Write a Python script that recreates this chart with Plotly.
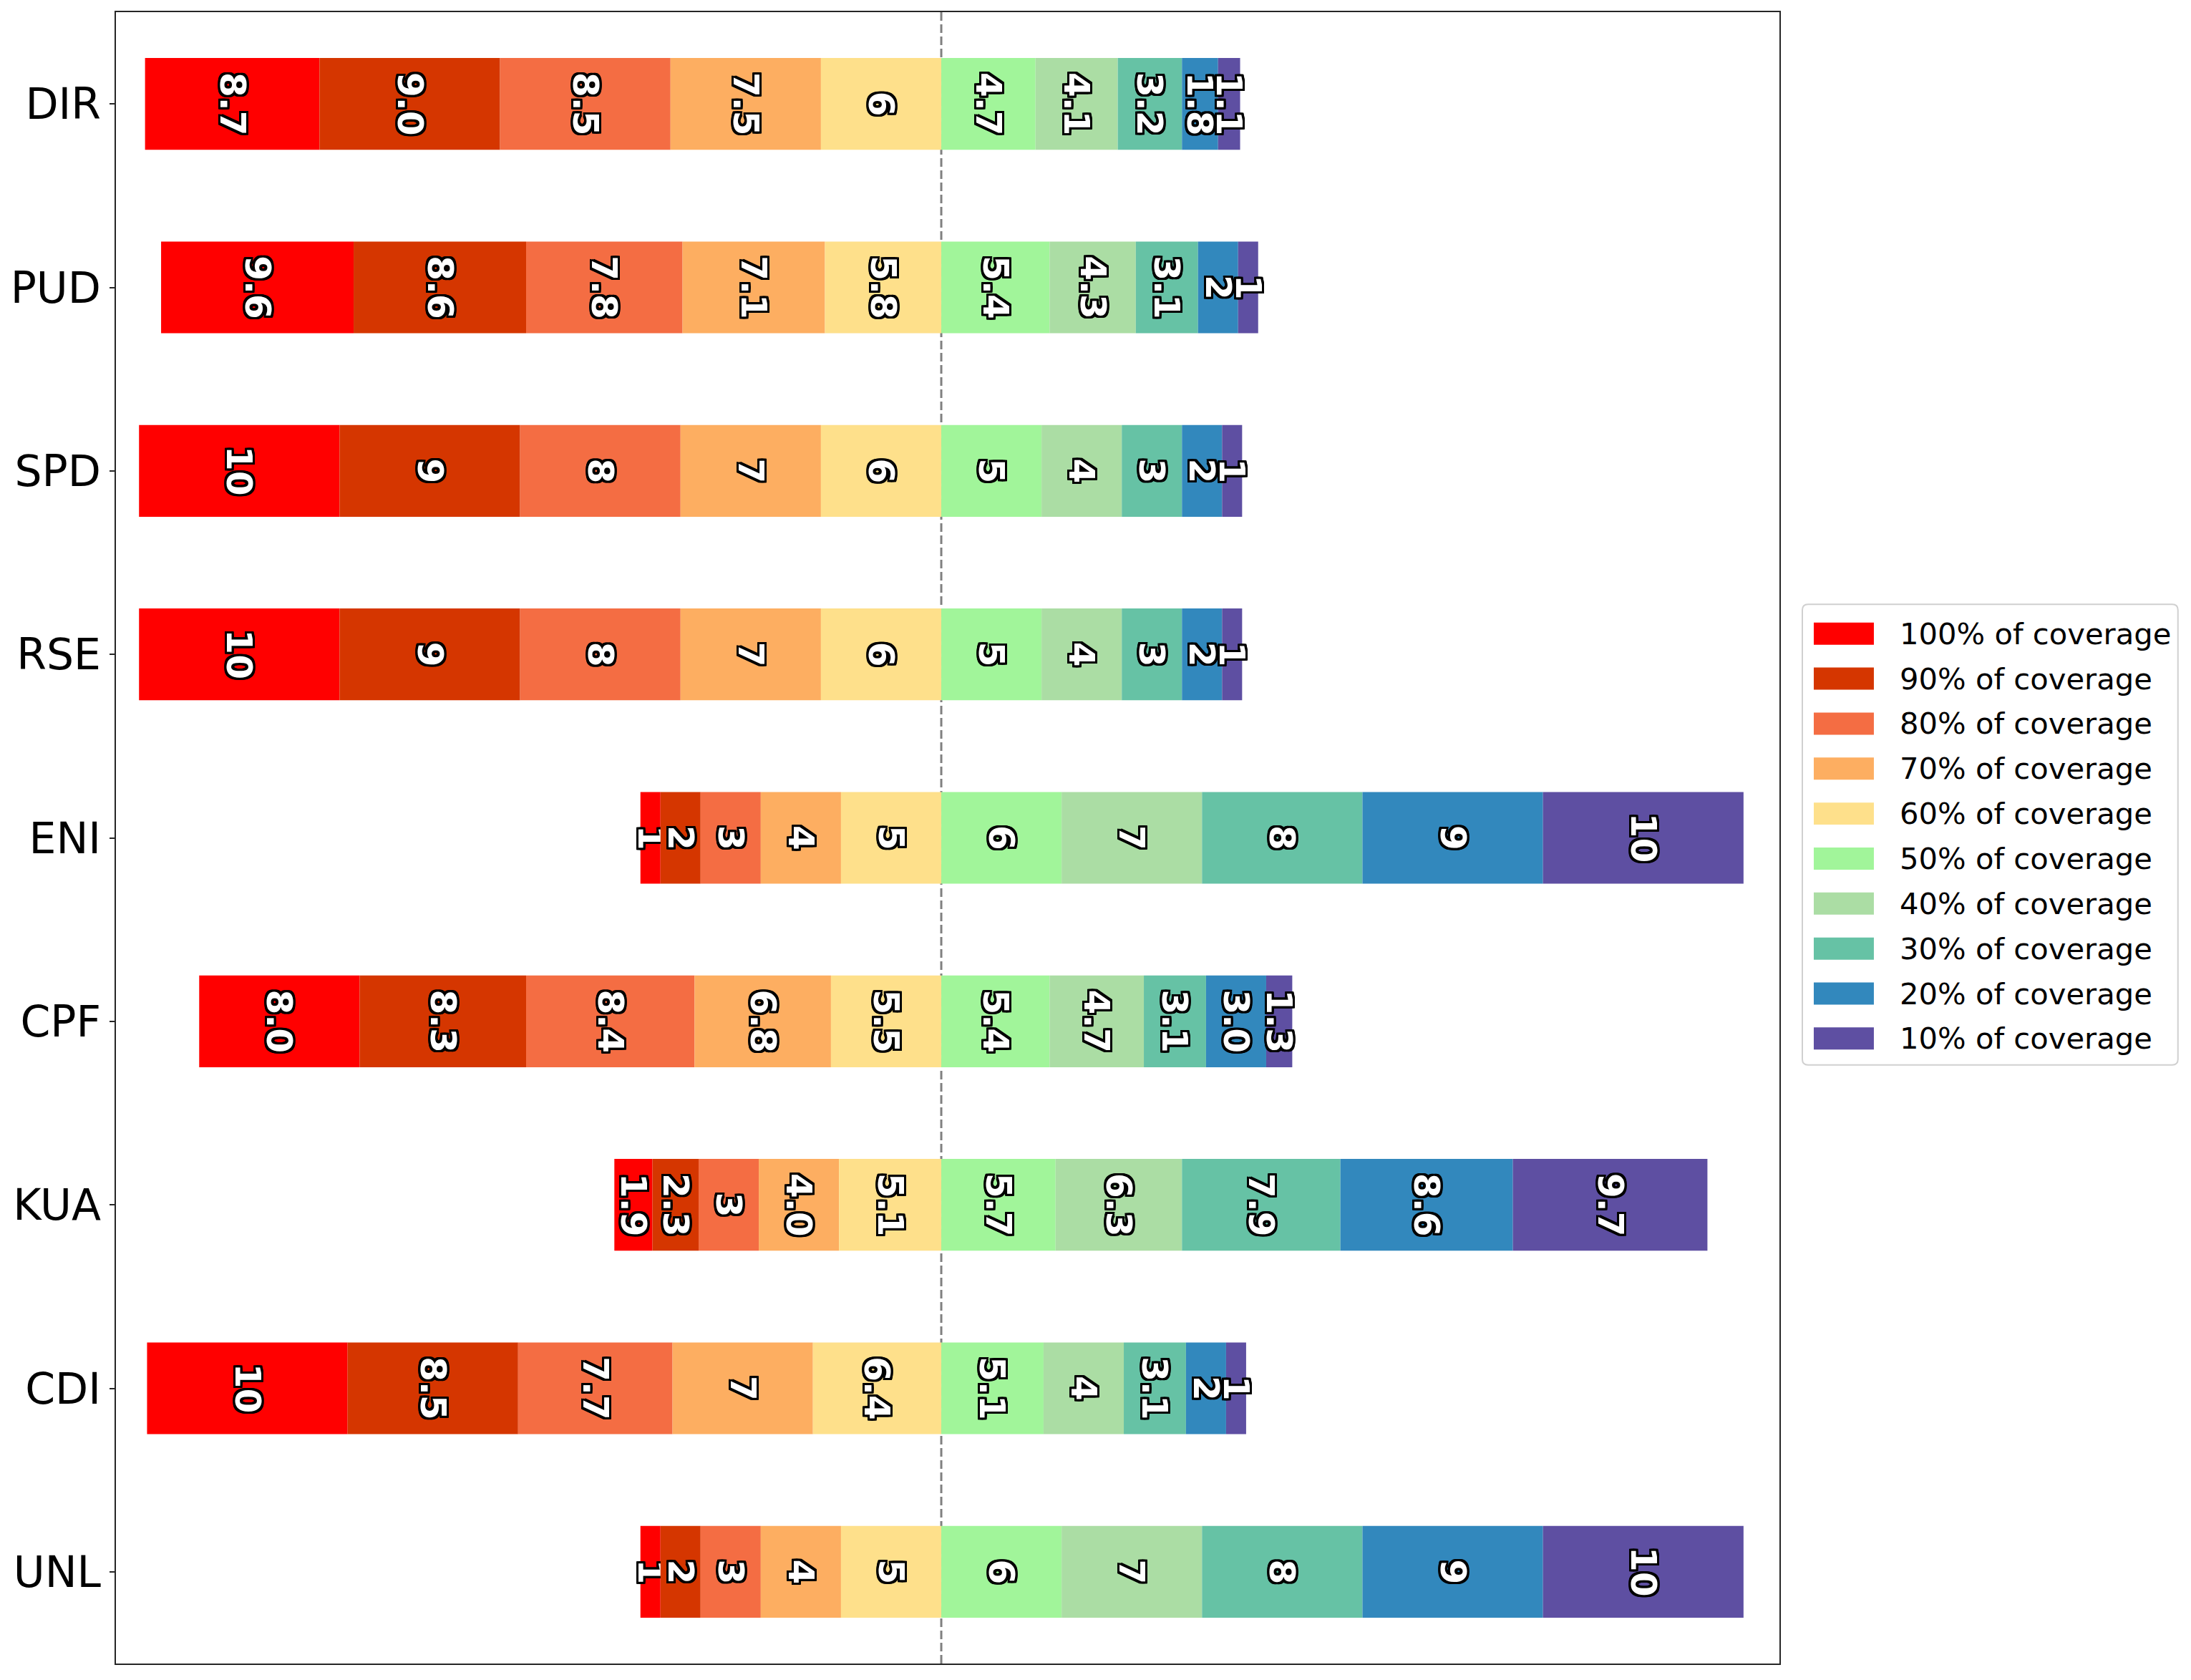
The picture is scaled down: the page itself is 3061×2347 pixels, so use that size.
import plotly.graph_objects as go

# categorias (de cima para baixo)
categories = ["DIR", "PUD", "SPD", "RSE", "ENI", "CPF", "KUA", "CDI", "UNL"]

# niveis de cobertura
levels = ["100%", "90%", "80%", "70%", "60%", "50%", "40%", "30%", "20%", "10%"]
colors = ["#ff0000", "#d53600", "#f46d43", "#fdae61", "#fee08b",
          "#a1f59a", "#abdda4", "#66c2a5", "#3288bd", "#5e4fa2"]

# valores por categoria, na ordem 100% ... 10%
dir_vals = [8.7, 9.0, 8.5, 7.5, 6, 4.7, 4.1, 3.2, 1.8, 1.1]
pud_vals = [9.6, 8.6, 7.8, 7.1, 5.8, 5.4, 4.3, 3.1, 2, 1]
spd_vals = [10, 9, 8, 7, 6, 5, 4, 3, 2, 1]
rse_vals = [10, 9, 8, 7, 6, 5, 4, 3, 2, 1]
eni_vals = [1, 2, 3, 4, 5, 6, 7, 8, 9, 10]
cpf_vals = [8.0, 8.3, 8.4, 6.8, 5.5, 5.4, 4.7, 3.1, 3.0, 1.3]
kua_vals = [1.9, 2.3, 3, 4.0, 5.1, 5.7, 6.3, 7.9, 8.6, 9.7]
cdi_vals = [10, 8.5, 7.7, 7, 6.4, 5.1, 4, 3.1, 2, 1]
unl_vals = [1, 2, 3, 4, 5, 6, 7, 8, 9, 10]

rows = [dir_vals, pud_vals, spd_vals, rse_vals, eni_vals,
        cpf_vals, kua_vals, cdi_vals, unl_vals]

# os 5 primeiros niveis ficam a esquerda da linha central
n_left = 5

# ===== geometria (px da pagina); o body tem margem de 8px =====
OFF = 8
W, H = 3061 - 2 * OFF, 2347 - 2 * OFF
L = 161 - OFF
T = 15 - OFF
R = W - (2486 - OFF)
B = H - (2324 - OFF)
PW = W - L - R
PH = H - T - B


def px_x(X):
    return (X - OFF - L) / PW


def px_y(Y):
    return (H - B - (Y - OFF)) / PH


# base de cada segmento
bases = []
for vals in rows:
    start = -sum(vals[:n_left])
    b = []
    for v in vals:
        b.append(start)
        start += v
    bases.append(b)

outline = ", ".join(f"{dx}px {dy}px 0 #000" for dx, dy in
                    [(-3, -3), (3, -3), (-3, 3), (3, 3), (0, 3), (0, -3), (3, 0), (-3, 0),
                     (-2, 3), (2, 3), (-2, -3), (2, -3), (3, 2), (3, -2), (-3, 2), (-3, -2)])

fig = go.Figure()
for i, lev in enumerate(levels):
    fig.add_trace(go.Bar(
        y=categories,
        x=[r[i] for r in rows],
        base=[b[i] for b in bases],
        orientation="h",
        width=0.5,
        name=f"{lev} of coverage",
        marker=dict(color=colors[i], line=dict(width=0)),
        text=[str(r[i]) for r in rows],
        textposition="inside",
        insidetextanchor="middle",
        textangle=90,
        constraintext="none",
        cliponaxis=False,
        textfont=dict(family="DejaVu Sans", size=50, color="white",
                      weight="bold", shadow=outline),
        showlegend=False,
    ))

# linha central tracejada
fig.add_shape(type="line", x0=0, x1=0, xref="x", yref="paper", y0=0, y1=1,
              line=dict(color="#808080", width=3, dash="12px,5px"), layer="below")

# ===== legenda desenhada a mao =====
lx0, lx1, ly0, ly1 = 2518, 3043, 843, 1487
rad = 8
path = (f"M {px_x(lx0 + rad)},{px_y(ly0)} L {px_x(lx1 - rad)},{px_y(ly0)} "
        f"Q {px_x(lx1)},{px_y(ly0)} {px_x(lx1)},{px_y(ly0 + rad)} "
        f"L {px_x(lx1)},{px_y(ly1 - rad)} Q {px_x(lx1)},{px_y(ly1)} {px_x(lx1 - rad)},{px_y(ly1)} "
        f"L {px_x(lx0 + rad)},{px_y(ly1)} Q {px_x(lx0)},{px_y(ly1)} {px_x(lx0)},{px_y(ly1 - rad)} "
        f"L {px_x(lx0)},{px_y(ly0 + rad)} Q {px_x(lx0)},{px_y(ly0)} {px_x(lx0 + rad)},{px_y(ly0)} Z")
fig.add_shape(type="path", path=path, xref="paper", yref="paper",
              line=dict(color="#d0d0d0", width=2), fillcolor="white")

row0, step = 884, 62.9
for i, lev in enumerate(levels):
    yc = row0 + i * step
    fig.add_shape(type="rect", xref="paper", yref="paper",
                  x0=px_x(2534), x1=px_x(2618), y0=px_y(yc - 15.5), y1=px_y(yc + 15.5),
                  fillcolor=colors[i], line=dict(width=0))
    fig.add_annotation(x=px_x(2652), y=px_y(yc), xref="paper", yref="paper",
                       text=f"{lev} of coverage", showarrow=False,
                       xanchor="left", yanchor="middle",
                       font=dict(family="DejaVu Sans", size=41.7, color="black"))

fig.update_layout(
    width=W, height=H,
    margin=dict(l=L, r=R, t=T, b=B),
    plot_bgcolor="white", paper_bgcolor="white",
    barmode="overlay",
    showlegend=False,
)
fig.update_xaxes(range=[-41.15, 41.79], showticklabels=False, ticks="",
                 showgrid=False, zeroline=False,
                 showline=True, mirror=True, linecolor="#262626", linewidth=2)
fig.update_yaxes(categoryorder="array", categoryarray=categories,
                 range=[len(categories) - 0.5, -0.5],
                 ticks="outside", ticklen=7, tickwidth=2, tickcolor="#262626",
                 tickfont=dict(family="DejaVu Sans", size=60, color="black"),
                 showgrid=False, zeroline=False,
                 showline=True, mirror=True, linecolor="#262626", linewidth=2)

fig.write_html("out.html")
